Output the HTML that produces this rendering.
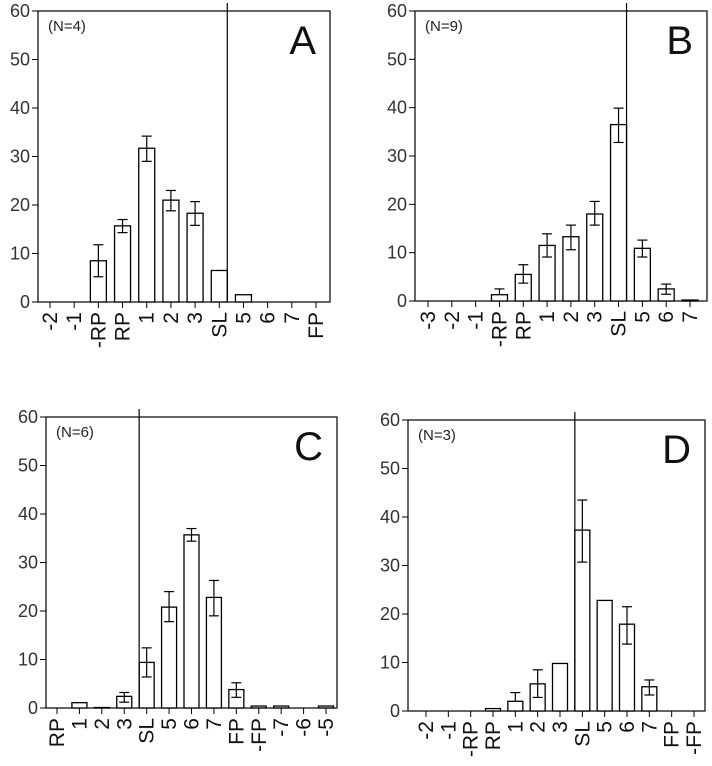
<!DOCTYPE html>
<html><head><meta charset="utf-8"><style>
body{margin:0;background:#fff}
svg{display:block;font-family:"Liberation Sans",Arial,sans-serif}
</style></head><body>
<svg id="c" width="712" height="766" viewBox="0 0 712 766"></svg>
<script>
const catsA=["-2","-1","-RP","RP","1","2","3","SL","5","6","7","FP"];
const valsA=[0,0,8.5,15.7,31.7,21,18.3,6.5,1.5,0,0,0];
const hiA=[null,null,11.8,17,34.2,23,20.7,null,null,null,null,null];
const loA=[null,null,5.2,14.3,29,18.8,15.8,null,null,null,null,null];
const catsB=["-3","-2","-1","-RP","RP","1","2","3","SL","5","6","7"];
const valsB=[0,0,0,1.3,5.5,11.5,13.3,18,36.5,10.9,2.5,0.2];
const hiB=[null,null,null,2.5,7.5,13.9,15.7,20.6,39.9,12.6,3.5,null];
const loB=[null,null,null,null,3.7,9.1,10.6,15.7,32.8,9.1,1.4,null];
const catsC=["RP","1","2","3","SL","5","6","7","FP","-FP","-7","-6","-5"];
const valsC=[0,1.1,0.1,2.4,9.4,20.8,35.7,22.8,3.8,0.4,0.4,0,0.4];
const hiC=[null,null,null,3.2,12.4,24,37,26.3,5.2,null,null,null,null];
const loC=[null,null,null,1.2,6.4,17.8,34.4,19,2.2,null,null,null,null];
const catsD=["-2","-1","-RP","RP","1","2","3","SL","5","6","7","FP","-FP"];
const valsD=[0,0,0,0.5,2,5.6,9.8,37.3,22.8,17.9,5,0,0];
const hiD=[null,null,null,null,3.8,8.5,null,43.5,null,21.5,6.4,null,null];
const loD=[null,null,null,null,null,2.8,null,30.7,null,13.8,3.3,null,null];
const yTicks=[0,10,20,30,40,50,60];

const NS="http://www.w3.org/2000/svg";
const svg=document.getElementById("c");
function mk(t,a,p){const e=document.createElementNS(NS,t);for(const k in a)e.setAttribute(k,a[k]);(p||svg).appendChild(e);return e;}

const panels=[
 {id:"a",L:38,T:11,B:302,R:330,c0:50,c1:316,bw:16,cats:catsA,v:valsA,hi:hiA,lo:loA,line:"SL",side:1,n:"(N=4)",letter:"A"},
 {id:"b",L:415,T:11,B:301,R:707,c0:428,c1:690,bw:16,cats:catsB,v:valsB,hi:hiB,lo:loB,line:"SL",side:1,n:"(N=9)",letter:"B"},
 {id:"c",L:46,T:417,B:708,R:337,c0:57,c1:326,bw:15,cats:catsC,v:valsC,hi:hiC,lo:loC,line:"SL",side:-1,n:"(N=6)",letter:"C"},
 {id:"d",L:408,T:420,B:711,R:705,c0:426,c1:694,bw:15,cats:catsD,v:valsD,hi:hiD,lo:loD,line:"SL",side:-1,n:"(N=3)",letter:"D"}
];
panels.forEach(p=>{
 const g=mk("g",{});
 
 
 const y=v=>p.B-(v/60)*(p.B-p.T);
 const step=(p.c1-p.c0)/(p.cats.length-1);
 const x=i=>p.c0+i*step;
 const frame=mk("rect",{x:p.L,y:p.T,width:p.R-p.L,height:p.B-p.T,fill:"none",stroke:"#000","stroke-width":1.2},g);
 
 
 yTicks.forEach(t=>{
  mk("line",{x1:p.L-6,x2:p.L,y1:y(t),y2:y(t),stroke:"#000"},g);
  const tx=mk("text",{x:p.L-8,y:y(t)+6,"text-anchor":"end","font-size":18,fill:"#333"},g);
  tx.textContent=t;
  
  
 });
 p.cats.forEach((c,i)=>{
  const cx=x(i);
  mk("line",{x1:cx,x2:cx,y1:p.B,y2:p.B+6,stroke:"#000"},g);
  const tx=mk("text",{x:0,y:0,transform:`translate(${cx+7},${p.B+10}) rotate(-90)`,"text-anchor":"end","font-size":21,fill:"#111"},g);
  tx.textContent=c;
  
  
  const v=p.v[i];
  if(v>0){
   const r=mk("rect",{x:cx-p.bw/2,y:y(v),width:p.bw,height:p.B-y(v),fill:"#fff",stroke:"#000","stroke-width":1.3},g);
   
   
  }
  if(p.hi[i]!=null){
   mk("line",{x1:cx,x2:cx,y1:y(v),y2:y(p.hi[i]),stroke:"#000","stroke-width":1.2},g);
   mk("line",{x1:cx-5,x2:cx+5,y1:y(p.hi[i]),y2:y(p.hi[i]),stroke:"#000","stroke-width":1.2},g);
  }
  if(p.lo[i]!=null){
   mk("line",{x1:cx,x2:cx,y1:y(v),y2:y(p.lo[i]),stroke:"#000","stroke-width":1.2},g);
   mk("line",{x1:cx-5,x2:cx+5,y1:y(p.lo[i]),y2:y(p.lo[i]),stroke:"#000","stroke-width":1.2},g);
  }
 });
 const li=p.cats.indexOf(p.line);
 const lx=x(li)+p.side*p.bw/2;
 const vl=mk("line",{x1:lx,x2:lx,y1:p.T-8,y2:p.B,stroke:"#000","stroke-width":1.2},g);
 
 
 const nt=mk("text",{x:p.L+10,y:p.T+20,"font-size":15,fill:"#222"},g);
 nt.textContent=p.n;
 
 
 const lt=mk("text",{x:p.R-14,y:p.T+43,"text-anchor":"end","font-size":40,fill:"#111"},g);
 lt.textContent=p.letter;
 
 
});
</script>
</body></html>
